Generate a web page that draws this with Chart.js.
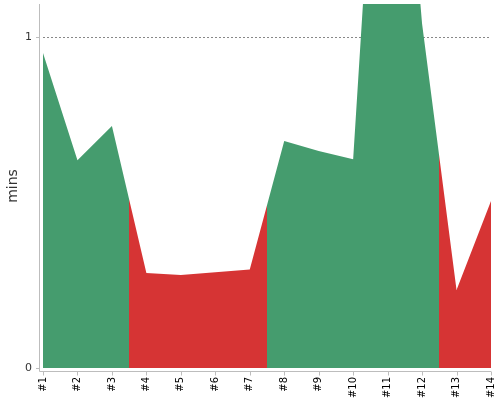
<!DOCTYPE html>
<html>
<head>
<meta charset="utf-8">
<script src="https://cdn.jsdelivr.net/npm/chart.js@4"></script>
<style>
  html, body { margin: 0; padding: 0; background: #fff }
  #wrap { width: 500px; height: 400px }
</style>
</head>
<body>
<div id="wrap"><canvas id="chart"></canvas></div>
<script>
const labels = ['#1', '#2', '#3', '#4', '#5', '#6', '#7', '#8', '#9', '#10', '#11', '#12', '#13', '#14']
const mins = [0.952, 0.628, 0.731, 0.287, 0.281, 0.289, 0.298, 0.686, 0.656, 0.631, 2.28, 1.04, 0.236, 0.505]
const status = ['ok', 'ok', 'ok', 'late', 'late', 'late', 'late', 'ok', 'ok', 'ok', 'ok', 'ok', 'late', 'late']
const yTicks = [0, 1]
const yMax = 1.1

const colors = { ok: '#459c6e', late: '#d63434' }
const axisColor = '#bdbdbd'
const font = 'DejaVu Sans'

// fill colour switches half way between two points whose status differs
function zoneFill (ctx) {
  const chart = ctx.chart
  const area = chart.chartArea
  if (!area) return colors[status[0]]
  const x = chart.scales.x
  const w = area.right - area.left
  const g = chart.ctx.createLinearGradient(area.left, 0, area.right, 0)
  let prev = status[0]
  g.addColorStop(0, colors[prev])
  for (let i = 1; i < status.length; i++) {
    if (status[i] !== prev) {
      const p = (x.getPixelForValue(i - 0.5) - area.left) / w
      g.addColorStop(p, colors[prev])
      g.addColorStop(p, colors[status[i]])
      prev = status[i]
    }
  }
  g.addColorStop(1, colors[prev])
  return g
}

// axis lines sit a few px outside the plot, like the original
const axisLines = {
  id: 'axisLines',
  afterDraw (chart) {
    const { ctx, chartArea: a, scales } = chart
    const ax = Math.round(a.left) - 3.5
    const ay = Math.round(a.bottom) + 3.5
    ctx.save()
    ctx.strokeStyle = axisColor
    ctx.lineWidth = 1
    ctx.beginPath()
    ctx.moveTo(ax, a.top)
    ctx.lineTo(ax, ay)
    ctx.lineTo(a.right, ay)
    scales.x.ticks.forEach((t, i) => {
      const px = Math.round(scales.x.getPixelForTick(i)) + 0.5
      ctx.moveTo(px, ay)
      ctx.lineTo(px, ay + 4)
    })
    yTicks.forEach(v => {
      const py = Math.round(scales.y.getPixelForValue(v)) + 0.5
      ctx.moveTo(ax, py)
      ctx.lineTo(ax - 3.5, py)
    })
    ctx.stroke()
    ctx.restore()
  }
}

new Chart(document.getElementById('chart'), {
  type: 'line',
  data: {
    labels,
    datasets: [{
      data: mins,
      fill: 'origin',
      backgroundColor: zoneFill,
      borderWidth: 0,
      pointRadius: 0,
      tension: 0
    }]
  },
  options: {
    responsive: true,
    maintainAspectRatio: false,
    animation: false,
    layout: { padding: { top: 4, right: 9, left: 0, bottom: 0 } },
    plugins: {
      legend: { display: false },
      tooltip: { enabled: false }
    },
    scales: {
      x: {
        offset: false,
        border: { display: false },
        grid: { display: false, drawTicks: false },
        ticks: {
          autoSkip: false,
          minRotation: 90,
          maxRotation: 90,
          padding: 9,
          color: '#000',
          font: { family: font, size: 10 }
        },
        afterFit (scale) {
          scale.height = 32
          scale.paddingLeft = 0
          scale.paddingRight = 0
        }
      },
      y: {
        min: 0,
        max: yMax,
        border: { display: false, dash: [2, 2] },
        grid: {
          drawTicks: false,
          color: c => c.tick && c.tick.value === 1 ? '#888' : 'rgba(0,0,0,0)'
        },
        afterBuildTicks (scale) { scale.ticks = yTicks.map(v => ({ value: v })) },
        ticks: {
          padding: 11,
          color: '#333',
          font: { family: font, size: 11 }
        },
        title: {
          display: true,
          text: 'mins',
          color: '#333',
          padding: { top: 5, bottom: 0 },
          font: { family: font, size: 14 }
        },
        afterFit (scale) {
          scale.width = 43
          scale.paddingTop = 0
          scale.paddingBottom = 0
        }
      }
    }
  },
  plugins: [axisLines]
})
</script>
</body>
</html>
